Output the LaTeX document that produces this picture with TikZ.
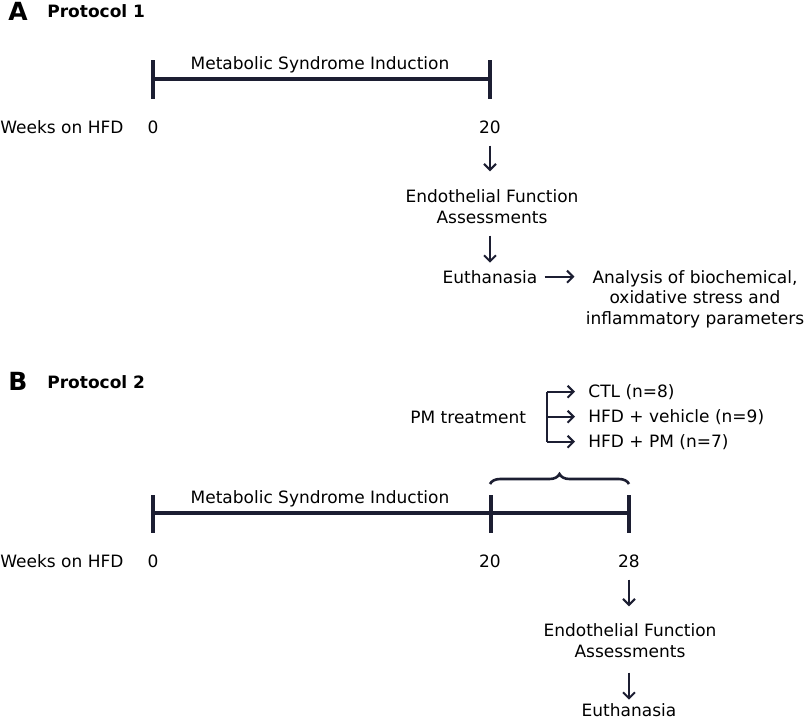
\documentclass[tikz,border=0pt]{standalone}
\usepackage{fontspec}
\setmainfont{DejaVu Sans}
\usetikzlibrary{arrows.meta, decorations.pathreplacing}
\definecolor{navy}{RGB}{28,30,50}

\begin{document}
\begin{tikzpicture}[x=0.5pt, y=-0.5pt, shorten >= 6pt, shorten <= 6pt,
    txt/.style={inner sep=0pt, anchor=base, font=\fontsize{8.5}{10.2}\selectfont},
    ttl/.style={inner sep=0pt, anchor=base west, font=\bfseries\fontsize{8.5}{10.2}\selectfont},
    lbl/.style={inner sep=0pt, anchor=base west, font=\bfseries\fontsize{12.5}{14}\selectfont},
    bar/.style={draw=navy, line width=1.6pt, shorten >= 0pt, shorten <= 0pt},
    arr/.style={draw=navy, line width=1pt, arrows={-Straight Barb[length=3pt, width=6pt]}}]

    \useasboundingbox (0, 0) rectangle (810, 720);

    % Protocol 1
    \path node (pa) [lbl] at (8, 20) {A};
    \path node (ta) [ttl] at (47, 17) {Protocol 1};

    \draw[bar] (153, 79) -- (490, 79);
    \foreach \x in {153, 490} \draw[bar] (\x, 60) -- (\x, 99);
    \path node (ma) [txt] at (320, 69) {Metabolic Syndrome Induction};

    \path node (wa) [txt, anchor=base west] at (0, 133) {Weeks on HFD};
    \path node (a0) [txt] at (153, 133) {0};
    \path node (a20) [txt] at (490, 133) {20};
    % base of a multi-line node = its last line
    \path node (fa) [txt, align=center] at (492, 223) {Endothelial Function\\Assessments};
    \path node (ea) [txt] at (490, 283) {Euthanasia};
    \path node (xa) [txt, align=center] at (695, 324) {Analysis of biochemical,\\oxidative stress and\\inflammatory parameters};

    \draw[arr, shorten >= 9pt] (a20) -- (a20 |- fa.north);
    \draw[arr, shorten >= 3.5pt] (ea |- fa.south) -- (ea);
    \draw[arr, shorten <= 3.5pt, shorten >= 5.5pt] (ea) -- (ea -| xa.west);

    % Protocol 2
    \path node (pb) [lbl] at (8, 390) {B};
    \path node (tb) [ttl] at (47, 388) {Protocol 2};

    \path node (pm) [txt, anchor=base west] at (410, 423) {PM treatment};
    \path node (ctl) [txt, anchor=base west] at (588, 397) {CTL (n=8)};
    \path node (veh) [txt, anchor=base west] at (588, 422) {HFD + vehicle (n=9)};
    \path node (hpm) [txt, anchor=base west] at (588, 447) {HFD + PM (n=7)};

    \coordinate (fork) at (547, 0);
    \draw[bar, line width=1pt] (ctl.west -| fork) -- (hpm.west -| fork);
    \foreach \n in {ctl, veh, hpm}
        \draw[arr, shorten <= 0pt, shorten >= 6.5pt] (\n.west -| fork) -- (\n.west);

    \draw[navy, line width=1.3pt, shorten >= 0pt, shorten <= 0pt,
        decorate, decoration={brace, amplitude=5pt}] (490, 484) -- (629, 484);

    \draw[bar] (153, 513) -- (629, 513);
    \foreach \x in {153, 491, 629} \draw[bar] (\x, 495) -- (\x, 533);
    \path node (mb) [txt] at (320, 503) {Metabolic Syndrome Induction};

    \path node (wb) [txt, anchor=base west] at (0, 567) {Weeks on HFD};
    \path node (b0) [txt] at (153, 567) {0};
    \path node (b20) [txt] at (490, 567) {20};
    \path node (b28) [txt] at (629, 567) {28};
    \path node (fb) [txt, align=center] at (630, 657) {Endothelial Function\\Assessments};
    \path node (eb) [txt] at (629, 716) {Euthanasia};

    \draw[arr, shorten >= 8.5pt] (b28) -- (b28 |- fb.north);
    \draw[arr, shorten <= 7.5pt, shorten >= 1.5pt] (eb |- fb.south) -- (eb);

\end{tikzpicture}
\end{document}
